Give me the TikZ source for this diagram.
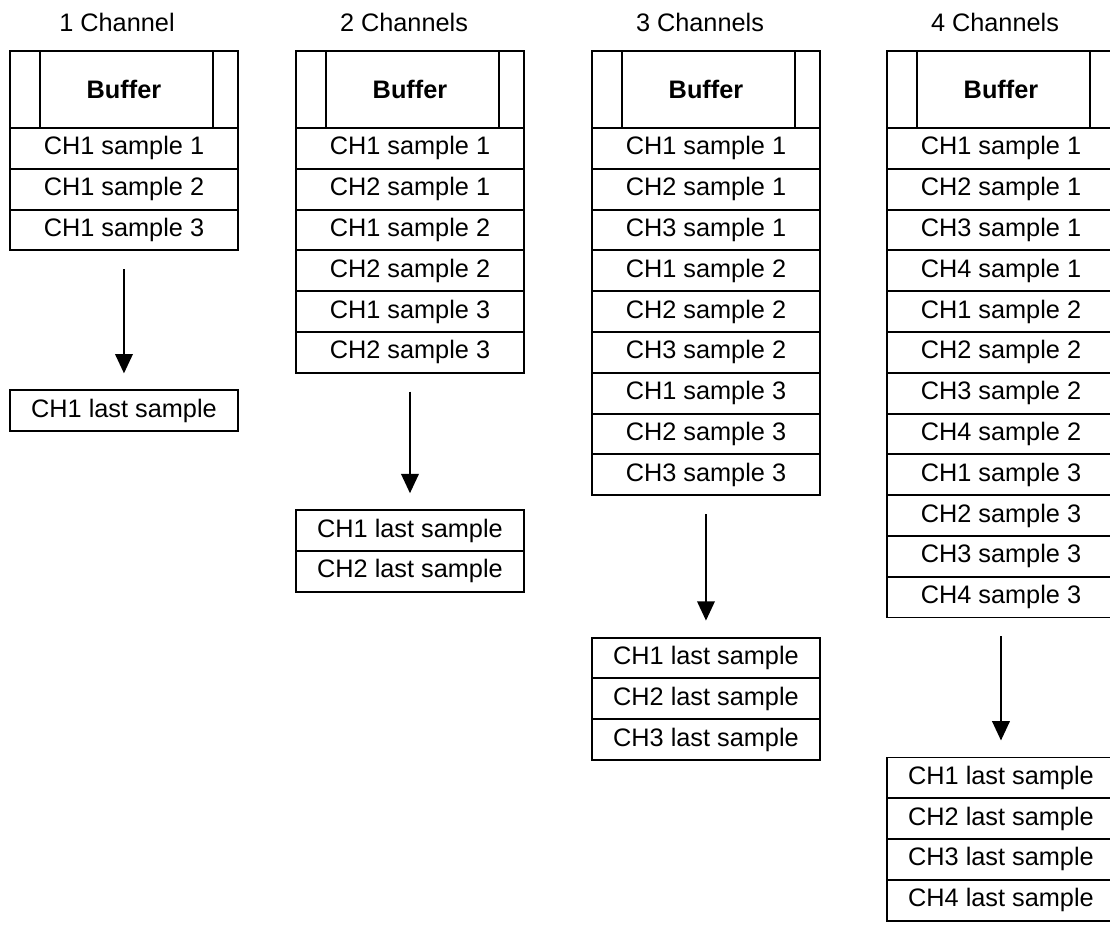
\documentclass[tikz,border=0pt]{standalone}
\usepackage{fontspec}
\setmainfont{Liberation Sans}
\usetikzlibrary{arrows.meta,positioning}

\begin{document}
\begin{tikzpicture}[
    x=0.02cm, y=-0.02cm,
    cell/.style={draw, rectangle, line width=1.1pt, minimum width=4.56cm, minimum height=0.816cm, inner sep=0pt, outer sep=0pt, font=\fontsize{14.4}{17}\selectfont},
    head/.style={cell, minimum height=1.54cm, font=\fontsize{14.4}{17}\selectfont\bfseries},
    sep/.style={line width=1.1pt},
    edge/.style={-{Triangle[width=10pt,length=11pt]}, line width=1.1pt, shorten <=0.38cm, shorten >=0.34cm},
    title/.style={font=\fontsize{14.4}{17}\selectfont},
    node distance=0pt,
]
\useasboundingbox (0,0) rectangle (1110,924);

% Titles
\node[title] (t1) at (117, 22) {1 Channel};
\node[title] (t2) at (404, 22) {2 Channels};
\node[title] (t3) at (700, 22) {3 Channels};
\node[title] (t4) at (995, 22) {4 Channels};

% 1 channel
\node[head, anchor=north west] (buf1) at (10, 51) {Buffer};
\draw[sep] ([xshift=0.6cm]buf1.north west) -- ([xshift=0.6cm]buf1.south west);
\draw[sep] ([xshift=-0.5cm]buf1.north east) -- ([xshift=-0.5cm]buf1.south east);
\node[cell, below=of buf1] (c1r1) {CH1 sample 1};
\node[cell, below=of c1r1] (c1r2) {CH1 sample 2};
\node[cell, below=of c1r2] (c1r3) {CH1 sample 3};
\node[cell, below=2.8cm of c1r3] (c1l1) {CH1 last sample};
\draw[edge] (c1r3) -- (c1l1);

% 2 channels
\node[head, anchor=north west] (buf2) at (296, 51) {Buffer};
\draw[sep] ([xshift=0.6cm]buf2.north west) -- ([xshift=0.6cm]buf2.south west);
\draw[sep] ([xshift=-0.5cm]buf2.north east) -- ([xshift=-0.5cm]buf2.south east);
\node[cell, below=of buf2] (c2r1) {CH1 sample 1};
\node[cell, below=of c2r1] (c2r2) {CH2 sample 1};
\node[cell, below=of c2r2] (c2r3) {CH1 sample 2};
\node[cell, below=of c2r3] (c2r4) {CH2 sample 2};
\node[cell, below=of c2r4] (c2r5) {CH1 sample 3};
\node[cell, below=of c2r5] (c2r6) {CH2 sample 3};
\node[cell, below=2.75cm of c2r6] (c2l1) {CH1 last sample};
\node[cell, below=of c2l1] (c2l2) {CH2 last sample};
\draw[edge] (c2r6) -- (c2l1);

% 3 channels
\node[head, anchor=north west] (buf3) at (592, 51) {Buffer};
\draw[sep] ([xshift=0.6cm]buf3.north west) -- ([xshift=0.6cm]buf3.south west);
\draw[sep] ([xshift=-0.5cm]buf3.north east) -- ([xshift=-0.5cm]buf3.south east);
\node[cell, below=of buf3] (c3r1) {CH1 sample 1};
\node[cell, below=of c3r1] (c3r2) {CH2 sample 1};
\node[cell, below=of c3r2] (c3r3) {CH3 sample 1};
\node[cell, below=of c3r3] (c3r4) {CH1 sample 2};
\node[cell, below=of c3r4] (c3r5) {CH2 sample 2};
\node[cell, below=of c3r5] (c3r6) {CH3 sample 2};
\node[cell, below=of c3r6] (c3r7) {CH1 sample 3};
\node[cell, below=of c3r7] (c3r8) {CH2 sample 3};
\node[cell, below=of c3r8] (c3r9) {CH3 sample 3};
\node[cell, below=2.85cm of c3r9] (c3l1) {CH1 last sample};
\node[cell, below=of c3l1] (c3l2) {CH2 last sample};
\node[cell, below=of c3l2] (c3l3) {CH3 last sample};
\draw[edge] (c3r9) -- (c3l1);

% 4 channels
\node[head, anchor=north west] (buf4) at (887, 51) {Buffer};
\draw[sep] ([xshift=0.6cm]buf4.north west) -- ([xshift=0.6cm]buf4.south west);
\draw[sep] ([xshift=-0.5cm]buf4.north east) -- ([xshift=-0.5cm]buf4.south east);
\node[cell, below=of buf4] (c4r1) {CH1 sample 1};
\node[cell, below=of c4r1] (c4r2) {CH2 sample 1};
\node[cell, below=of c4r2] (c4r3) {CH3 sample 1};
\node[cell, below=of c4r3] (c4r4) {CH4 sample 1};
\node[cell, below=of c4r4] (c4r5) {CH1 sample 2};
\node[cell, below=of c4r5] (c4r6) {CH2 sample 2};
\node[cell, below=of c4r6] (c4r7) {CH3 sample 2};
\node[cell, below=of c4r7] (c4r8) {CH4 sample 2};
\node[cell, below=of c4r8] (c4r9) {CH1 sample 3};
\node[cell, below=of c4r9] (c4r10) {CH2 sample 3};
\node[cell, below=of c4r10] (c4r11) {CH3 sample 3};
\node[cell, below=of c4r11] (c4r12) {CH4 sample 3};
\node[cell, below=2.8cm of c4r12] (c4l1) {CH1 last sample};
\node[cell, below=of c4l1] (c4l2) {CH2 last sample};
\node[cell, below=of c4l2] (c4l3) {CH3 last sample};
\node[cell, below=of c4l3] (c4l4) {CH4 last sample};
\draw[edge] (c4r12) -- (c4l1);

\end{tikzpicture}
\end{document}
